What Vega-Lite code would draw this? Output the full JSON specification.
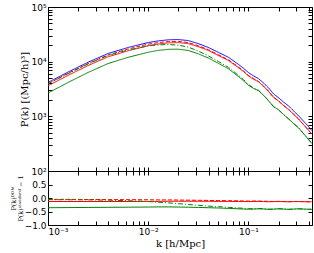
{
  "$schema": "https://vega.github.io/schema/vega-lite/v6.json",
  "padding": {"left": 9, "top": 2, "right": 0, "bottom": 0},
  "spacing": 0,
  "bounds": "flush",
  "config": {
    "font": "DejaVu Sans",
    "view": {"stroke": "#000", "strokeWidth": 1},
    "axis": {"domain": false, "grid": false, "ticks": true, "tickColor": "#000", "tickSize": -4, "labelPadding": 6, "labelFont": "DejaVu Sans", "labelFontSize": 9, "labelColor": "#000", "titleFont": "DejaVu Serif", "titleFontWeight": "normal", "titleColor": "#000", "titleFontSize": 10}
  },
  "datasets": {
    "P": [
      {"k":0.001,"blue":4169,"red":3627,"redd":3961,"green":2668,"greend":3919},
      {"k":0.001585,"blue":6457,"red":5618,"redd":6134,"green":4165,"greend":6037},
      {"k":0.002512,"blue":9772,"red":8502,"redd":9235,"green":6352,"greend":9088},
      {"k":0.003981,"blue":14125,"red":12289,"redd":13278,"green":9252,"greend":12995},
      {"k":0.00631,"blue":18197,"red":15831,"redd":17105,"green":12010,"greend":16377},
      {"k":0.01,"blue":22387,"red":19589,"redd":20932,"green":14887,"greend":19477},
      {"k":0.01259,"blue":23988,"red":20990,"redd":22309,"green":16072,"greend":20270},
      {"k":0.01585,"blue":25119,"red":22105,"redd":23361,"green":16830,"greend":20598},
      {"k":0.01995,"blue":25410,"red":22361,"redd":23504,"green":16898,"greend":20074},
      {"k":0.02512,"blue":24266,"red":21354,"redd":22325,"green":16016,"greend":18442},
      {"k":0.03162,"blue":21380,"red":18814,"redd":19563,"green":13897,"greend":15607},
      {"k":0.03981,"blue":18197,"red":16013,"redd":16559,"green":11646,"greend":12738},
      {"k":0.05012,"blue":14791,"red":12942,"redd":13386,"green":9318,"greend":10058},
      {"k":0.0631,"blue":12023,"red":10520,"redd":10821,"green":7394,"greend":7875},
      {"k":0.07943,"blue":8913,"red":7754,"redd":7977,"green":5348,"greend":5615},
      {"k":0.08913,"blue":7586,"red":6600,"redd":6752,"green":4476,"greend":4703},
      {"k":0.1,"blue":6310,"red":5458,"redd":5584,"green":3691,"greend":3818},
      {"k":0.1122,"blue":5495,"red":4781,"redd":4891,"green":3242,"greend":3297},
      {"k":0.1259,"blue":4898,"red":4286,"redd":4335,"green":2939,"greend":2988},
      {"k":0.1413,"blue":4074,"red":3544,"redd":3585,"green":2424,"greend":2444},
      {"k":0.1585,"blue":3311,"red":2847,"redd":2897,"green":1920,"greend":1937},
      {"k":0.1778,"blue":2570,"red":2223,"redd":2236,"green":1516,"greend":1491},
      {"k":0.1995,"blue":2188,"red":1904,"redd":1915,"green":1313,"greend":1313},
      {"k":0.2239,"blue":1820,"red":1574,"redd":1583,"green":1074,"greend":1083},
      {"k":0.2512,"blue":1549,"red":1332,"redd":1340,"green":898,"greend":898},
      {"k":0.2818,"blue":1259,"red":1089,"redd":1095,"green":743,"greend":737},
      {"k":0.3162,"blue":1023,"red":890,"redd":890,"green":614,"greend":614},
      {"k":0.3548,"blue":813,"red":703,"redd":703,"green":480,"greend":480},
      {"k":0.3981,"blue":646,"red":556,"redd":556,"green":375,"greend":378},
      {"k":0.4266,"blue":550,"red":473,"redd":473,"green":319,"greend":319}
    ],
    "R": [
      {"k":0.001,"red":-0.13,"redd":-0.05,"green":-0.36,"greend":-0.06},
      {"k":0.001585,"red":-0.13,"redd":-0.05,"green":-0.355,"greend":-0.065},
      {"k":0.002512,"red":-0.13,"redd":-0.055,"green":-0.35,"greend":-0.07},
      {"k":0.003981,"red":-0.13,"redd":-0.06,"green":-0.345,"greend":-0.08},
      {"k":0.00631,"red":-0.13,"redd":-0.06,"green":-0.34,"greend":-0.1},
      {"k":0.01,"red":-0.125,"redd":-0.065,"green":-0.335,"greend":-0.13},
      {"k":0.01259,"red":-0.125,"redd":-0.07,"green":-0.33,"greend":-0.155},
      {"k":0.01585,"red":-0.12,"redd":-0.07,"green":-0.33,"greend":-0.18},
      {"k":0.01995,"red":-0.12,"redd":-0.075,"green":-0.335,"greend":-0.21},
      {"k":0.02512,"red":-0.12,"redd":-0.08,"green":-0.34,"greend":-0.24},
      {"k":0.03162,"red":-0.12,"redd":-0.085,"green":-0.35,"greend":-0.27},
      {"k":0.03981,"red":-0.12,"redd":-0.09,"green":-0.36,"greend":-0.3},
      {"k":0.05012,"red":-0.125,"redd":-0.095,"green":-0.37,"greend":-0.32},
      {"k":0.0631,"red":-0.125,"redd":-0.1,"green":-0.385,"greend":-0.345},
      {"k":0.07943,"red":-0.13,"redd":-0.105,"green":-0.4,"greend":-0.37},
      {"k":0.08913,"red":-0.13,"redd":-0.11,"green":-0.41,"greend":-0.38},
      {"k":0.1,"red":-0.135,"redd":-0.115,"green":-0.415,"greend":-0.395},
      {"k":0.1122,"red":-0.13,"redd":-0.11,"green":-0.41,"greend":-0.4},
      {"k":0.1259,"red":-0.125,"redd":-0.115,"green":-0.4,"greend":-0.39},
      {"k":0.1413,"red":-0.13,"redd":-0.12,"green":-0.405,"greend":-0.4},
      {"k":0.1585,"red":-0.14,"redd":-0.125,"green":-0.42,"greend":-0.415},
      {"k":0.1778,"red":-0.135,"redd":-0.13,"green":-0.41,"greend":-0.42},
      {"k":0.1995,"red":-0.13,"redd":-0.125,"green":-0.4,"greend":-0.4},
      {"k":0.2239,"red":-0.135,"redd":-0.13,"green":-0.41,"greend":-0.405},
      {"k":0.2512,"red":-0.14,"redd":-0.135,"green":-0.42,"greend":-0.42},
      {"k":0.2818,"red":-0.135,"redd":-0.13,"green":-0.41,"greend":-0.415},
      {"k":0.3162,"red":-0.13,"redd":-0.13,"green":-0.4,"greend":-0.4},
      {"k":0.3548,"red":-0.135,"redd":-0.135,"green":-0.41,"greend":-0.41},
      {"k":0.3981,"red":-0.14,"redd":-0.14,"green":-0.42,"greend":-0.415},
      {"k":0.4266,"red":-0.14,"redd":-0.14,"green":-0.42,"greend":-0.42}
    ]
  },
  "vconcat": [
    {
      "width": 264, "height": 164,
      "data": {"name": "P"},
      "resolve": {"axis": {"x": "independent", "y": "independent"}},
      "layer": [
        {
          "transform": [{"fold": ["blue","red","redd","green","greend"], "as": ["s","P"]}],
          "mark": {"type": "line", "strokeWidth": 1, "clip": true},
          "encoding": {
            "x": {"field": "k", "type": "quantitative", "scale": {"type": "log", "domain": [0.001, 0.43], "nice": false},
              "axis": {"title": null, "labels": false, "values": [0.001,0.002,0.003,0.004,0.005,0.006,0.007,0.008,0.009,0.01,0.02,0.03,0.04,0.05,0.06,0.07,0.08,0.09,0.1,0.2,0.3,0.4]}},
            "y": {"field": "P", "type": "quantitative", "scale": {"type": "log", "domain": [100, 100000], "nice": false},
              "axis": {"title": "P(k)  [(Mpc/h)³]", "titlePadding": 1,
                "values": [100,200,300,400,500,600,700,800,900,1000,2000,3000,4000,5000,6000,7000,8000,9000,10000,20000,30000,40000,50000,60000,70000,80000,90000,100000],
                "labelExpr": "datum.value == 100 ? '10²' : datum.value == 1000 ? '10³' : datum.value == 10000 ? '10⁴' : datum.value == 100000 ? '10⁵' : ''"}},
            "color": {"field": "s", "type": "nominal", "legend": null,
              "scale": {"domain": ["blue","red","redd","green","greend"], "range": ["#0000ff","#ff0000","#ff0000","#008000","#008000"]}},
            "strokeDash": {"field": "s", "type": "nominal", "legend": null,
              "scale": {"domain": ["blue","red","redd","green","greend"], "range": [[1,0],[1,0],[4,2],[1,0],[5,2,1,2]]}}
          }
        },
        {
          "mark": {"type": "point", "opacity": 0},
          "encoding": {
            "x": {"field": "k", "type": "quantitative", "axis": {"orient": "top", "title": null, "labels": false, "labelPadding": 0, "minExtent": 0, "maxExtent": 0, "values": [0.001,0.002,0.003,0.004,0.005,0.006,0.007,0.008,0.009,0.01,0.02,0.03,0.04,0.05,0.06,0.07,0.08,0.09,0.1,0.2,0.3,0.4]}},
            "y": {"field": "blue", "type": "quantitative", "axis": {"orient": "right", "title": null, "labels": false, "labelPadding": 0, "minExtent": 0, "maxExtent": 0, "values": [100,200,300,400,500,600,700,800,900,1000,2000,3000,4000,5000,6000,7000,8000,9000,10000,20000,30000,40000,50000,60000,70000,80000,90000,100000]}}
          }
        }
      ]
    },
    {
      "width": 264, "height": 54,
      "resolve": {"axis": {"x": "independent", "y": "independent"}},
      "layer": [
        {
          "data": {"name": "R"},
          "transform": [{"fold": ["red","redd","green","greend"], "as": ["s","r"]}],
          "mark": {"type": "line", "strokeWidth": 1, "clip": true},
          "encoding": {
            "x": {"field": "k", "type": "quantitative", "scale": {"type": "log", "domain": [0.001, 0.43], "nice": false},
              "axis": {"title": "k [h/Mpc]", "titlePadding": 2,
                "values": [0.001,0.002,0.003,0.004,0.005,0.006,0.007,0.008,0.009,0.01,0.02,0.03,0.04,0.05,0.06,0.07,0.08,0.09,0.1,0.2,0.3,0.4],
                "labelExpr": "datum.value == 0.001 ? '10⁻³' : datum.value == 0.01 ? '10⁻²' : datum.value == 0.1 ? '10⁻¹' : ''"}},
            "y": {"field": "r", "type": "quantitative", "scale": {"domain": [-1, 1], "nice": false},
              "axis": {"title": ["P(k)ᴰᴰᴹ", "P(k)ˢᵗᵃⁿᵈᵃʳᵈ − 1"], "titleFontSize": 6.5, "titleLineHeight": 7, "titlePadding": 1,
                "values": [-1, -0.5, 0, 0.5],
                "labelExpr": "replace(format(datum.value, '.1f'), '-', '−')"}},
            "color": {"field": "s", "type": "nominal", "legend": null,
              "scale": {"domain": ["blue","red","redd","green","greend"], "range": ["#0000ff","#ff0000","#ff0000","#008000","#008000"]}},
            "strokeDash": {"field": "s", "type": "nominal", "legend": null,
              "scale": {"domain": ["blue","red","redd","green","greend"], "range": [[1,0],[1,0],[4,2],[1,0],[5,2,1,2]]}}
          }
        },
        {
          "data": {"name": "R"},
          "mark": {"type": "point", "opacity": 0},
          "encoding": {
            "x": {"field": "k", "type": "quantitative", "axis": {"orient": "top", "title": null, "labels": false, "labelPadding": 0, "minExtent": 0, "maxExtent": 0, "values": [0.001,0.002,0.003,0.004,0.005,0.006,0.007,0.008,0.009,0.01,0.02,0.03,0.04,0.05,0.06,0.07,0.08,0.09,0.1,0.2,0.3,0.4]}},
            "y": {"field": "red", "type": "quantitative", "axis": {"orient": "right", "title": null, "labels": false, "labelPadding": 0, "minExtent": 0, "maxExtent": 0, "values": [-1, -0.5, 0, 0.5, 1]}}
          }
        },
        {
          "mark": {"type": "rule", "color": "#808080", "strokeWidth": 1},
          "encoding": {"y": {"datum": 0, "type": "quantitative", "axis": null}}
        }
      ]
    }
  ]
}
